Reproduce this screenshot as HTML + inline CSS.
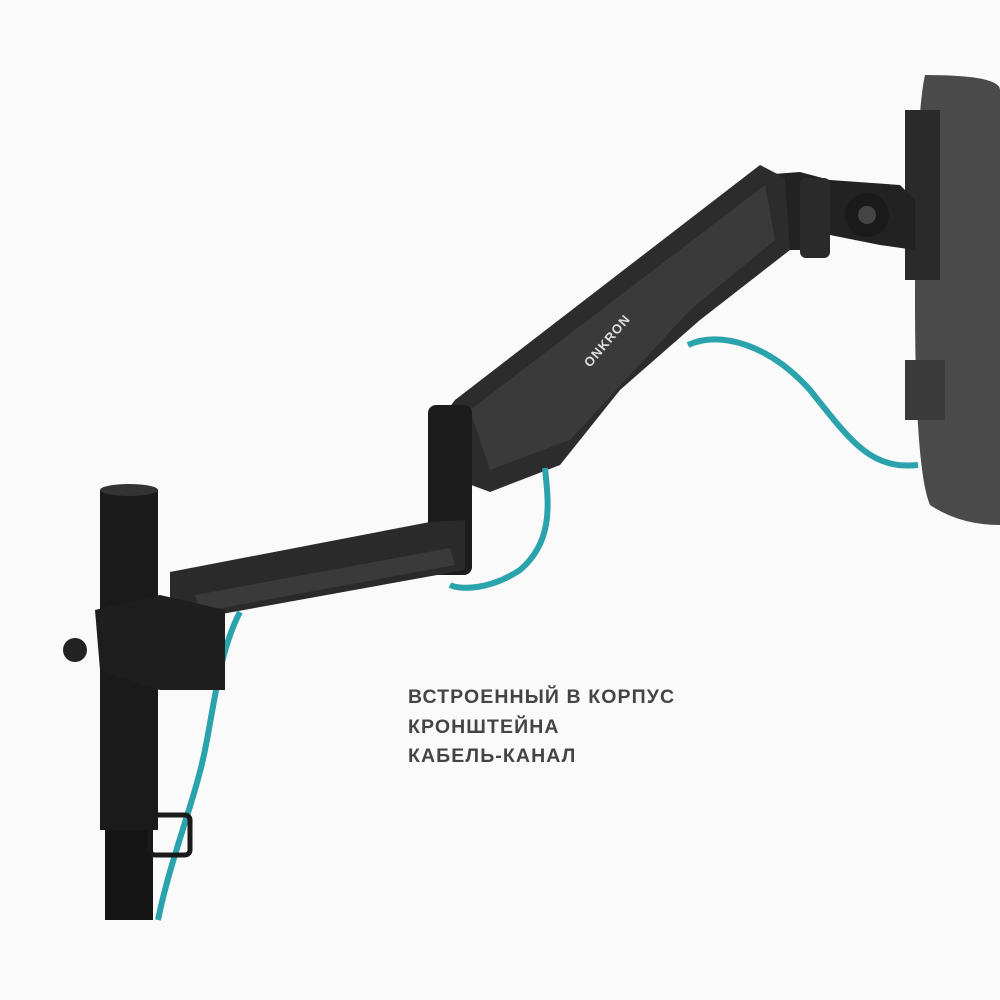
<!DOCTYPE html>
<html><head><meta charset="utf-8"><style>
html,body{margin:0;padding:0;background:#fafafa;}
.t{position:absolute;left:408px;font-family:"Liberation Sans","Noto Sans CJK SC",sans-serif;font-size:19.5px;color:#444;letter-spacing:1.1px;font-weight:bold;}
</style></head><body>
<div style="position:relative;width:1000px;height:1000px;overflow:hidden;background:#fafafa">
<svg width="1000" height="1000" style="position:absolute;left:0;top:0">
<path d="M925,75 Q1000,75 1000,90 L1000,525 Q960,525 930,505 Q915,470 915,300 Q915,120 925,75Z" fill="#4a4a4a"/>
<rect x="905" y="110" width="35" height="170" fill="#2a2a2a"/>
<rect x="905" y="360" width="40" height="60" fill="#3a3a3a"/>
<path d="M760,175 L800,172 L830,180 L900,185 L915,200 L915,250 L880,245 L830,235 L810,250 L790,250 L770,240Z" fill="#222"/>
<circle cx="867" cy="215" r="22" fill="#1a1a1a"/>
<circle cx="867" cy="215" r="9" fill="#444"/>
<rect x="800" y="178" width="30" height="80" rx="6" fill="#2a2a2a"/>
<path d="M440,420 L455,400 L760,165 L785,178 L790,250 L700,320 L620,390 L560,465 L490,492 L458,480Z" fill="#2c2c2c"/>
<path d="M470,410 L765,185 L775,240 L690,310 L570,440 L490,470Z" fill="#3a3a3a"/>
<text x="590" y="368" transform="rotate(-50 590 368)" font-family="Liberation Sans, sans-serif" font-size="13" font-weight="bold" fill="#ddd" letter-spacing="1">ONKRON</text>
<rect x="428" y="405" width="44" height="170" rx="8" fill="#1c1c1c"/>
<path d="M170,572 L430,522 L465,520 L465,570 L205,617 L170,617Z" fill="#2a2a2a"/>
<path d="M195,595 L450,548 L455,565 L200,612Z" fill="#3a3a3a"/>
<path d="M918,465 C870,470 850,440 810,390 C770,345 720,330 688,345" fill="none" stroke="#2aa3ac" stroke-width="6"/>
<path d="M545,468 C548,500 555,540 520,570 C490,590 460,590 450,585" fill="none" stroke="#2aa3ac" stroke-width="6"/>
<path d="M240,612 C220,650 215,700 205,750 C195,800 170,860 158,920" fill="none" stroke="#2aa3ac" stroke-width="6"/>
<rect x="100" y="490" width="58" height="340" fill="#1a1a1a"/>
<ellipse cx="129" cy="490" rx="29" ry="6" fill="#333"/>
<rect x="105" y="830" width="48" height="90" fill="#151515"/>
<path d="M95,610 L160,595 L225,610 L225,690 L160,690 L100,670Z" fill="#1e1e1e"/>
<circle cx="75" cy="650" r="12" fill="#222"/>
<rect x="150" y="815" width="40" height="40" rx="5" fill="none" stroke="#1a1a1a" stroke-width="5"/>
</svg>
<div class="t" style="top:686px">ВСТРОЕННЫЙ В КОРПУС</div>
<div class="t" style="top:716px">КРОНШТЕЙНА</div>
<div class="t" style="top:745px">КАБЕЛЬ-КАНАЛ</div>
</div>
</body></html>
